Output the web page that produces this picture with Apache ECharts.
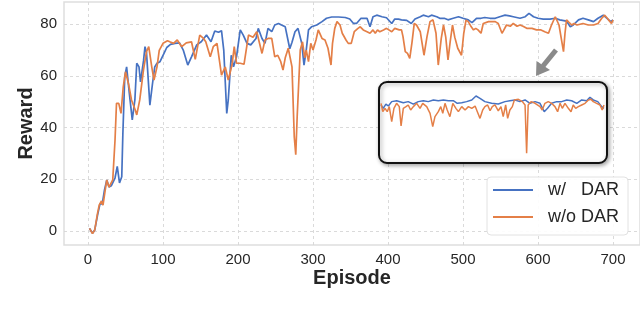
<!DOCTYPE html>
<html>
<head>
<meta charset="utf-8">
<script src="https://cdn.jsdelivr.net/npm/echarts@6/dist/echarts.min.js"></script>
<style>html,body{margin:0;padding:0;background:#fff}#c{width:640px;height:312px}</style>
</head>
<body>
<div id="c"></div>
<script>
const xTicks = [0, 100, 200, 300, 400, 500, 600, 700];
const yTicks = [0, 20, 40, 60, 80];
const seriesNames = ['w/   DAR', 'w/o DAR'];

const blueEpisodes = [2,6,9,13,16,19,22,25,28,31,33,36,39,42,45,46.5,49,51.5,55,59,62.5,65,68,70,74,76,78,82.5,86,89,92,96,101,105,110,116,122,127,133,138,145,151,158,164,169,174,178,181,185,187,191,194,198,203,207,212,217,224,227,232,236,240,245,249,254,258,263,269,272,276,280,285,288,291,294,298,305,312,318,325,334,343,349,354,358,364,372,376,380,385,392,398,405,409,414,418,425,431,436,443,447,454,458,465,469,475,480,487,494,500,507,512,518,524,529,536,543,549,556,562,567,576,583,588,594,600,607,616,623,629,638,643,647,654,660,667,674,680,687,692,697,700];
const blueReward = [1.0,-0.9,0.4,6.5,10.5,10.5,15.9,19.7,17,17.5,17.4,20.5,25,18.6,21,37.8,59.7,63.5,53.5,43,50.7,64.9,63.5,57.7,65.8,71.3,69,48.7,57,63.5,64.9,65.5,68.5,71,72.2,72.6,72.8,70,64.2,67.4,72,73.2,75.8,73.2,77.4,76.9,77.5,70,45.5,50.7,68,63.5,67.4,77.8,75.8,72.6,72,74.5,78.4,74.5,72.6,78.4,77.1,79.7,80.3,79.7,79,70.5,73,77.1,78.4,72.6,64.2,70,77.8,79,79.7,81,82.3,82.8,82.8,82.6,82,80.3,80.3,82.3,82.3,79,82.9,83.5,82.9,82.5,80.3,82,82,81.7,81.5,80.3,82,82.9,83.5,82.9,83.5,82.9,82.3,82.3,81.7,82.3,82.9,82.3,81.7,80.6,82.3,82.3,82.6,82.3,82.3,82.9,83.5,83.2,82.9,82.3,82.9,84.2,82.9,82.3,82,82,82.3,81.7,81.2,79,79.7,81.7,82.3,81.7,81,82.3,83.5,82.3,81,81.7];

const orangeEpisodes = [2,6,9,12.5,15,18,20,23,25,28,30,33,36,38,41,44,47,50,54,58,63,65,69,74,78,81,85,88,92,95,100,106,109,114,119,125,131,138,143,149,154,157,163,167,172,178,183,187,192,195,198,203,208,214,220,225,232,236,240,245,249,253,257,260,263,267,272,275,277,279,283,286,289,291,294,297,300,304,307,312,316,320,324,326,329,332,336,339,341,344,347,351,355,360,363,367,372,376,380,383,386,389,394,398,405,409,415,418,420,423,426,429,432,435,438,443,445,448,452,456,460,464,467,471,474,477,480,483,486,489,493,498,501,504,507,511,514,517,520,524,527,534,543,547,552,554,558,563,567,572,576,580,585,592,598,604,609,614,618,623,625,628,631,634,636,638,641,645,648,652,660,667,674,680,685,689,694,698,700];
const orangeReward = [1.0,-1.0,0.4,6.5,10.1,11.6,10,15.9,19.7,17,16.5,19.8,35,49.4,49.4,45.5,55.8,61.6,57,50.7,46.8,44.9,50.7,62.3,69.4,71.3,63.5,58.4,63.5,69.9,72.6,73.6,73.2,72.6,73.9,71.3,72.8,73.2,66.4,75.8,74.5,73.2,67.4,71.3,72.6,60.3,63.5,58.4,64.2,71.3,64.9,64.9,64.5,75.8,75,77.1,68.7,73.9,74.5,74.5,67.4,68,65.5,62.3,67,70.7,63.5,36.5,29.5,45,70,73.2,67,70,65.5,72.6,70,73.9,77.8,74.5,73.9,70.7,64.2,72.6,78.4,81,79.7,76.5,77,73.9,72.6,72.6,77.1,78.4,79,77.8,77.1,76.5,77.8,76.5,77.8,77.1,77.8,78.4,77.1,78.4,77.8,77.8,75.2,69.4,68.7,66.8,73,80.3,79.7,77.1,73.5,68,75.2,81,81.7,76.5,64.2,74.5,79.7,75,66.2,73.5,79.7,75,70.7,68,76.5,81.6,81,79,77.8,78.4,77.8,76.5,80.3,81,81,80.3,76.5,77.5,79.7,79.2,80.3,79.2,79.7,79.2,78.4,78.4,77.8,77.8,77.1,76.5,79.7,82.9,82.9,79.7,74.5,69.4,76.5,81.7,80.8,79.7,80.3,79.7,80.3,79.7,79.7,80.3,82.3,83.5,81.7,80.3,81.7];

// inset (zoomed-out overview) series
const insetBlueX = [0,1,2.2,3.3,4.8,7,10,12.2,14.5,16.7,19,21.2,23.5,25.7,28,30.2,32.4,34.2,36.2,38.4,40.7,42.6,44.4,46.6,49.6,52.6,55.6,57.8,60.1,62.3,64.6,66.8,69.1,71.3,73.2,74.7,76.5,78.8,81,83.3,85.5,87.8,90,92.2,93.7,95.2,97.2,99,100];
const insetBlueY = [76.2,74,76.8,75.5,78.4,79,77.7,78.4,76.8,78.4,79,78.4,79.5,79,79.5,79,79,77.3,77.7,78.4,79.5,82.1,80.6,78.4,77.3,76.8,78.4,79,79.5,78.4,79.5,77.3,78.4,77.3,71.8,74,77.3,78.4,78.4,79.5,79,77.3,79.5,79,81.2,79.5,78.4,75.1,74];
const insetOrangeX = [0,0.8,1.8,2.8,3.7,4.8,5.8,7,8.2,9,10,11.2,12.2,13.3,14.5,16,17.5,18.7,20.5,22,23.2,24.2,25.7,26.8,27.7,28.7,29.7,30.9,32.2,33.6,34.7,36.2,37.7,39.2,40.7,42.2,43.2,44.4,45.6,46.6,47.8,48.9,49.9,51.1,52.6,53.8,54.8,55.9,56.8,57.8,58.9,59.8,61.6,63.4,64.6,65.3,66,67.3,69.1,71.3,72.3,73.5,75,76.5,78,79.2,80.3,81.3,82.5,84,85.2,86.2,87.3,88.5,90,91.5,93,94.2,95.2,96.7,98.2,99.2,100];
const insetOrangeY = [77.3,71.8,74,71.8,75.1,65.2,74,77.3,75.1,62.4,74,75.1,76.2,72.9,75.1,77.3,74,77.3,75.1,70.7,61.9,68.5,71.8,75.1,70.7,77.3,72.9,68.5,77.3,74,71.8,75.1,72.9,75.1,74,75.5,71.8,67.4,72.9,75.1,76.2,72.4,75.1,76.2,72.4,75.1,68.5,76.2,67.4,72.9,75.1,79.5,79.9,78.4,76.2,44.4,76.2,78.4,77.3,75.1,72.9,77.3,78.4,77.3,75.1,71.8,77.3,74,77.3,74,71.8,76.2,74,75.1,76.2,77.3,79.5,79.9,78.4,77.3,76.2,72.9,76.2];

const zip = (xs, ys) => xs.map((x, i) => [x, ys[i]]);

const BLUE = '#4672c2';
const ORANGE = '#e47f47';
const FONT = '"Liberation Sans", Arial, Helvetica, sans-serif';
const gridLine = { show: true, lineStyle: { color: '#d6d6d6', type: [3, 3], width: 0.9 } };

const chart = echarts.init(document.getElementById('c'), null, { renderer: 'canvas' });
chart.setOption({
  animation: false,
  backgroundColor: '#ffffff',
  grid: [
    { left: 64, right: -2, top: 2, bottom: 67, show: true, borderColor: '#dedede', borderWidth: 1.5, containLabel: false },
    { left: 381, top: 84, width: 223, height: 76, show: false, containLabel: false }
  ],
  xAxis: [
    {
      type: 'value', gridIndex: 0, min: -32, max: 736,
      name: 'Episode', nameLocation: 'middle', nameGap: 23, nameMoveOverlap: false,
      nameTextStyle: { fontFamily: FONT, fontSize: 20, fontWeight: 'bold', color: '#262626' },
      axisLine: { show: false }, axisTick: { show: false, customValues: xTicks },
      axisLabel: { customValues: xTicks, fontFamily: FONT, fontSize: 15, color: '#262626', margin: 7 },
      splitLine: gridLine
    },
    { type: 'value', gridIndex: 1, min: 0, max: 100, show: false, splitLine: { show: false } }
  ],
  yAxis: [
    {
      type: 'value', gridIndex: 0, min: -5.42, max: 88.6,
      name: 'Reward', nameLocation: 'middle', nameGap: 28, nameMoveOverlap: false,
      nameTextStyle: { fontFamily: FONT, fontSize: 20, fontWeight: 'bold', color: '#262626' },
      axisLine: { show: false }, axisTick: { show: false, customValues: yTicks },
      axisLabel: { customValues: yTicks, fontFamily: FONT, fontSize: 15, color: '#262626', margin: 7 },
      splitLine: gridLine
    },
    { type: 'value', gridIndex: 1, min: 40, max: 90, show: false, splitLine: { show: false } }
  ],
  legend: {
    data: seriesNames,
    orient: 'vertical', left: 487, top: 177,
    icon: 'rect', itemWidth: 40, itemHeight: 2, itemGap: 7,
    padding: [3, 9, 8, 6],
    backgroundColor: 'rgba(255,255,255,0.9)', borderColor: '#e2e2e2', borderWidth: 1, borderRadius: 4,
    textStyle: { fontFamily: FONT, fontSize: 18, color: '#262626', lineHeight: 20, padding: [0, 0, 0, 10] }
  },
  graphic: [
    {
      type: 'rect', z: 5,
      shape: { x: 379, y: 82, width: 228, height: 81, r: 8 },
      style: { fill: '#ffffff', stroke: '#111111', lineWidth: 2, shadowBlur: 4, shadowOffsetX: 1.5, shadowOffsetY: 1.5, shadowColor: 'rgba(0,0,0,0.35)' }
    },
    {
      type: 'line', z: 20,
      shape: { x1: 556, y1: 50, x2: 543, y2: 66 },
      style: { stroke: '#8a8a8a', lineWidth: 5 }
    },
    {
      type: 'polygon', z: 20,
      shape: { points: [[536, 76], [536.5, 61], [550, 70]] },
      style: { fill: '#8a8a8a' }
    }
  ],
  series: [
    {
      name: seriesNames[0], type: 'line', xAxisIndex: 0, yAxisIndex: 0,
      data: zip(blueEpisodes, blueReward), showSymbol: false, symbol: 'none',
      lineStyle: { color: BLUE, width: 1.7 }, itemStyle: { color: BLUE }, z: 2
    },
    {
      name: seriesNames[1], type: 'line', xAxisIndex: 0, yAxisIndex: 0,
      data: zip(orangeEpisodes, orangeReward), showSymbol: false, symbol: 'none',
      lineStyle: { color: ORANGE, width: 1.7 }, itemStyle: { color: ORANGE }, z: 3
    },
    {
      name: 'inset-blue', type: 'line', xAxisIndex: 1, yAxisIndex: 1,
      data: zip(insetBlueX, insetBlueY), showSymbol: false, symbol: 'none',
      lineStyle: { color: BLUE, width: 1.5 }, z: 10
    },
    {
      name: 'inset-orange', type: 'line', xAxisIndex: 1, yAxisIndex: 1,
      data: zip(insetOrangeX, insetOrangeY), showSymbol: false, symbol: 'none',
      lineStyle: { color: ORANGE, width: 1.5 }, z: 11
    }
  ]
});
</script>
</body>
</html>
